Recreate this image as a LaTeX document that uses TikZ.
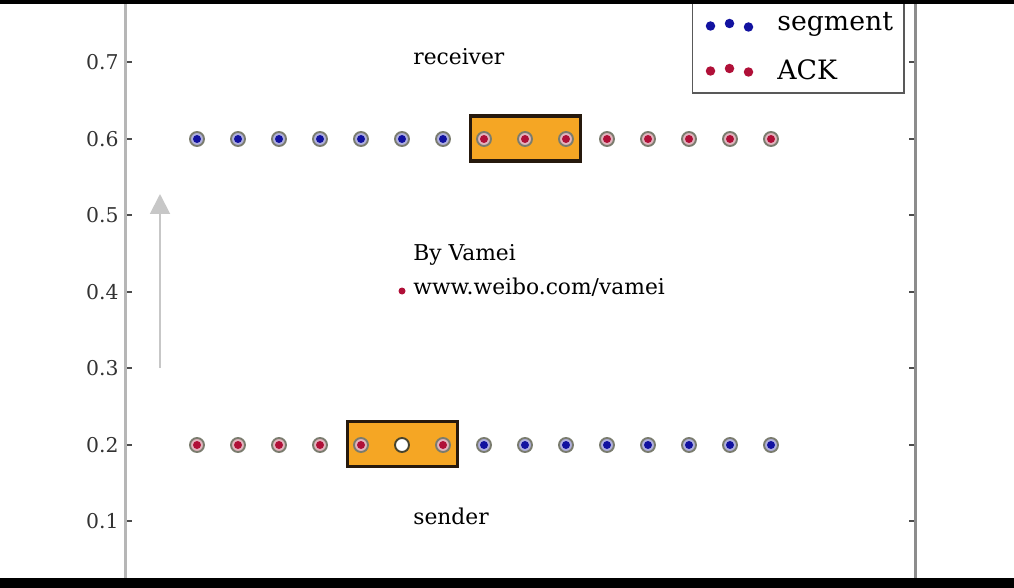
\documentclass[tikz,border=0pt]{standalone}
\usepackage{fontspec}
\setmainfont{DejaVu Serif}
\usetikzlibrary{arrows.meta,positioning}
\definecolor{segcolor}{RGB}{18,18,160}
\definecolor{ackcolor}{RGB}{176,16,56}
\definecolor{segfill}{RGB}{176,176,222}
\definecolor{ackfill}{RGB}{226,180,190}
\definecolor{ringcolor}{RGB}{122,124,110}
\definecolor{windowcolor}{RGB}{245,166,36}
\definecolor{axiscolor}{RGB}{182,182,182}

\begin{document}
\begin{tikzpicture}[x=0.02cm, y=-0.02cm,
    ring/.style={circle, draw=ringcolor, line width=1.1pt, minimum size=0.28cm, inner sep=0pt},
    segring/.style={ring, fill=segfill},
    ackring/.style={ring, fill=ackfill},
    blankring/.style={ring, draw=black!65!olive, fill=white},
    dot/.style={circle, minimum size=0.16cm, inner sep=0pt},
    segdot/.style={dot, fill=segcolor},
    ackdot/.style={dot, fill=ackcolor},
    legdot/.style={dot, minimum size=0.19cm},
    window/.style={rectangle, draw=black!80!brown, line width=1.8pt, fill=windowcolor, minimum width=2.2cm, minimum height=0.9cm},
    label/.style={anchor=west, inner sep=0pt, font=\fontsize{12.4}{14}\selectfont},
    ticklabel/.style={anchor=east, inner sep=0pt, text=black!80, font=\fontsize{11.6}{13}\selectfont},
    tick/.style={draw=black!70, line width=0.6pt},
    axis/.style={line width=2.2pt},
    uparrow/.style={-{Triangle[length=0.4cm, width=0.4cm]}, draw=black!22, fill=black!22, line width=1.1pt}
]
\useasboundingbox (0,0) rectangle (1014,588);
\fill[white] (0,0) rectangle (1014,588);

% Axes
\coordinate (ltop) at (125.5,0);
\coordinate (lbot) at (125.5,588);
\coordinate (rtop) at (915.5,0);
\coordinate (rbot) at (915.5,588);
\draw[axis, draw=axiscolor] (ltop) -- (lbot);
\draw[axis, draw=black!45, line width=1.6pt] (rtop) -- (rbot);

% Ticks and tick labels
\foreach \v/\n/\y in {0.7/7/62, 0.6/6/139, 0.5/5/215, 0.4/4/292, 0.3/3/368, 0.2/2/445, 0.1/1/521} {
    \node[ticklabel] (tl\n) at (119,\y) {\v};
    \coordinate (la\n) at (127,\y);
    \coordinate (lb\n) at (132,\y);
    \coordinate (ra\n) at (914,\y);
    \coordinate (rb\n) at (909,\y);
    \draw[tick] (la\n) -- (lb\n);
    \draw[tick] (ra\n) -- (rb\n);
}

% Windows
\node[window] (recvwin) at (525.5,138.5) {};
\node[window] (sendwin) at (402.5,444) {};

% Receiver row
\foreach \i in {0,...,6} {
    \node[segring] (recv\i) at ({197+41*\i},139) {};
    \node[segdot] at (recv\i) {};
}
\foreach \i in {7,...,14} {
    \node[ackring] (recv\i) at ({197+41*\i},139) {};
    \node[ackdot] at (recv\i) {};
}

% Sender row
\foreach \i in {0,1,2,3,4,6} {
    \node[ackring] (send\i) at ({197+41*\i},445) {};
    \node[ackdot] at (send\i) {};
}
\node[blankring] (send5) at (402,445) {};
\foreach \i in {7,...,14} {
    \node[segring] (send\i) at ({197+41*\i},445) {};
    \node[segdot] at (send\i) {};
}

% Labels
\node[label] (receiver) at (413,57) {receiver};
\node[label] (sender) at (413,516) {sender};
\node[label] (author) at (413,255) {By Vamei};
\node[label] (weibo) at (413,287) {www.weibo.com/vamei};
\node[ackdot, minimum size=0.14cm] (weibodot) at (402,291) {};

% Direction arrow
\coordinate (uptail) at (160,368);
\coordinate (uptip) at (160,194);
\draw[uparrow] (uptail) -- (uptip);

% Legend
\node[rectangle, draw=black!65, line width=0.9pt, fill=white, minimum width=4.24cm, minimum height=2.1cm, anchor=south west] (legend) at (691.5,94) {};
\node[legdot, fill=segcolor] (seg1) at (710.5,26) {};
\node[legdot, fill=segcolor] (seg2) at (729.5,23.5) {};
\node[legdot, fill=segcolor] (seg3) at (748.5,27) {};
\node[legdot, fill=ackcolor] (ack1) at (710.5,71) {};
\node[legdot, fill=ackcolor] (ack2) at (729.5,68.5) {};
\node[legdot, fill=ackcolor] (ack3) at (748.5,72) {};
\node[label, font=\fontsize{15.2}{17}\selectfont] (segtext) at (777,24) {segment};
\node[label, font=\fontsize{15.2}{17}\selectfont] (acktext) at (777,70) {ACK};

% Black bars
\fill[black] (0,0) rectangle (1014,4.3);
\fill[black] (0,578.3) rectangle (1014,588);
\end{tikzpicture}
\end{document}
